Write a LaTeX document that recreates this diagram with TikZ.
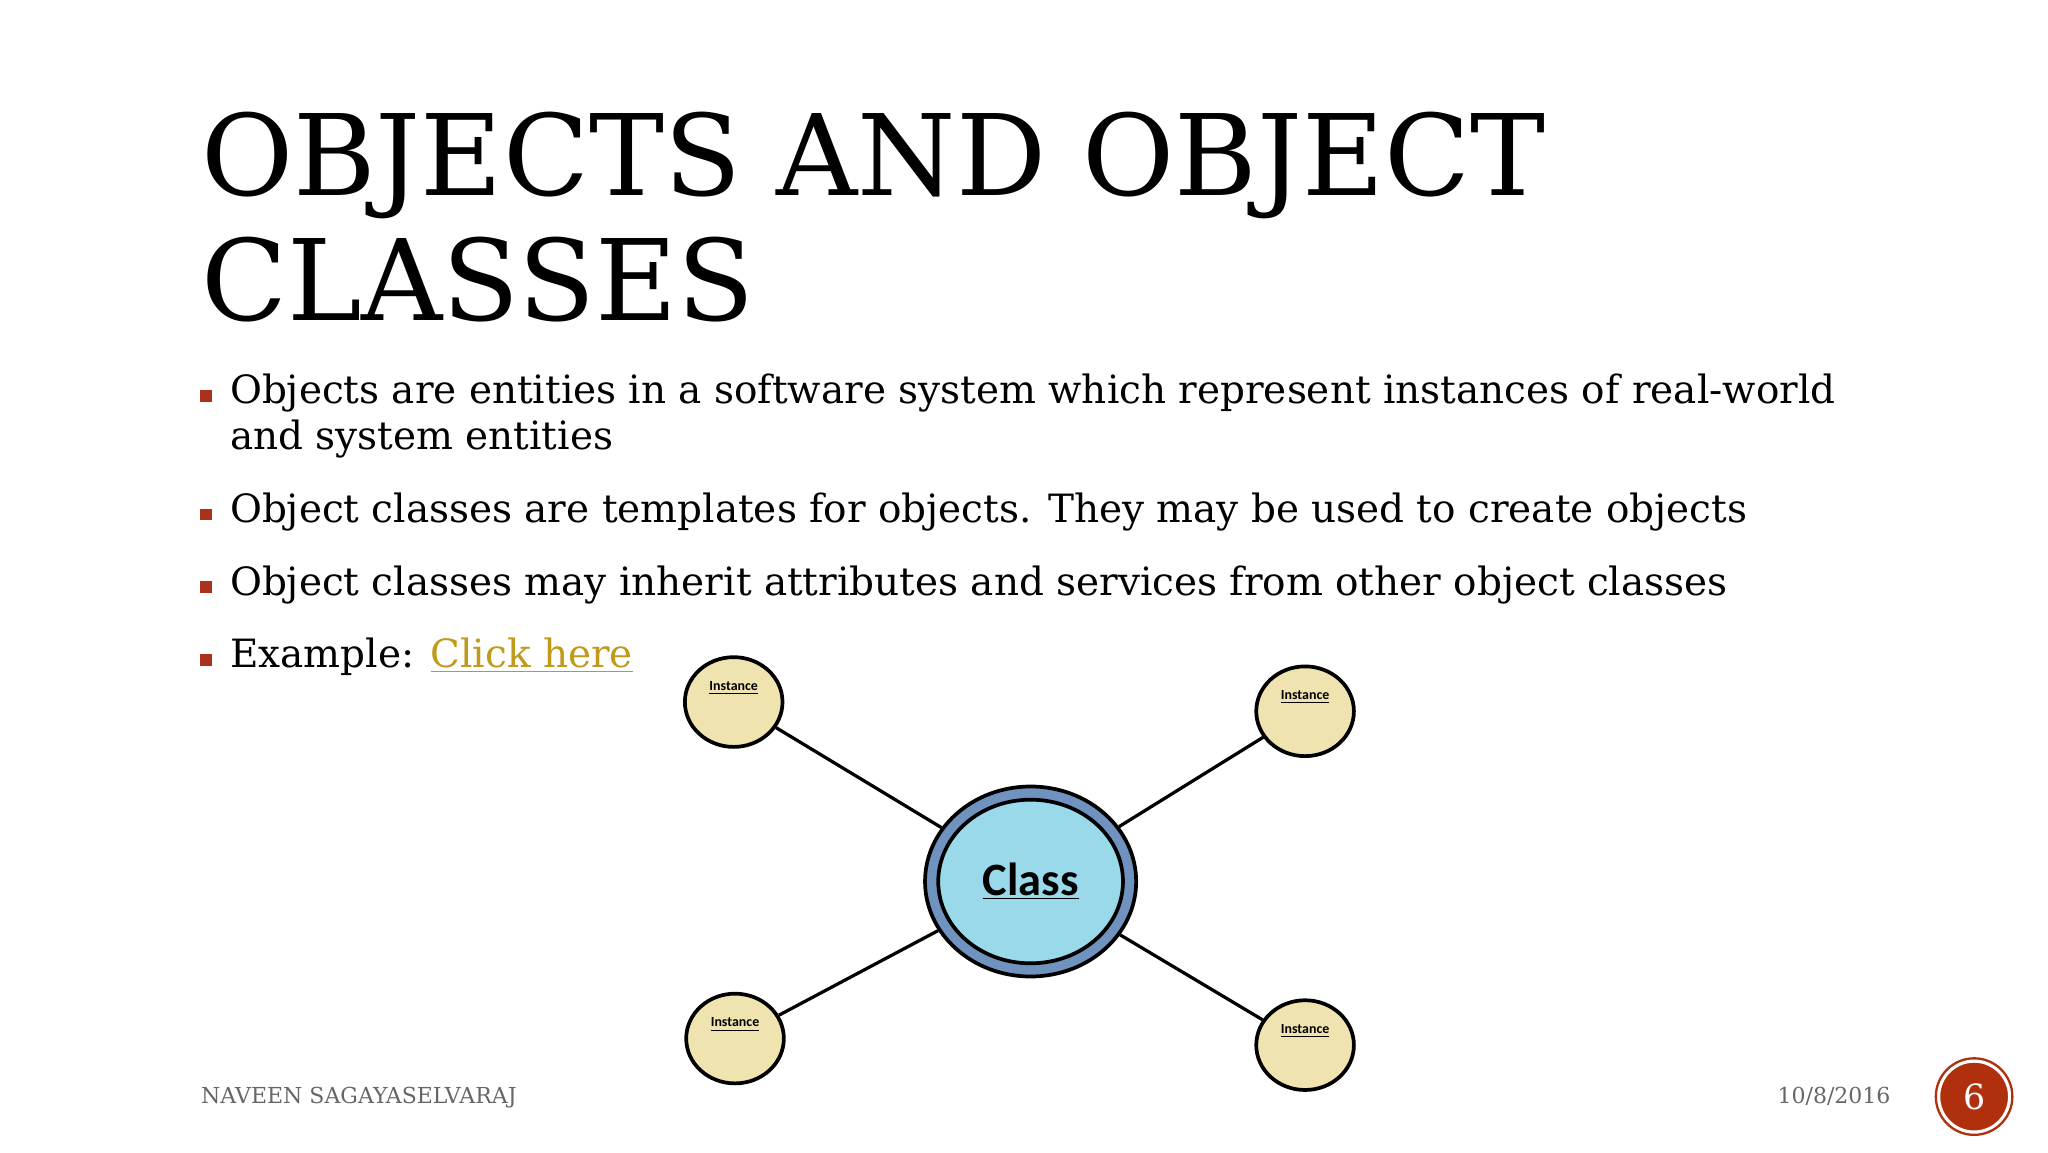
\documentclass[tikz,border=0pt]{standalone}
\usepackage{fontspec}
\setmainfont{DejaVu Serif}
\newfontfamily\calib{Carlito}
\usetikzlibrary{positioning}
\definecolor{bulletred}{HTML}{A8321C}
\definecolor{linkgold}{HTML}{C09A1A}
\definecolor{instfill}{HTML}{EFE4B0}
\definecolor{classfill}{HTML}{99D9EA}
\definecolor{classring}{HTML}{7092BE}
\definecolor{pagered}{HTML}{B0300E}
\tikzset{
  bullet/.style={fill=bulletred, minimum size=5pt, inner sep=0pt},
  bodytext/.style={anchor=base west, inner sep=0pt, font=\fontsize{16.8}{20}\selectfont},
  instance/.style={ellipse, draw, line width=1.6pt, fill=instfill, minimum width=74\px, minimum height=68\px, inner sep=0pt},
  link/.style={line width=1.4pt},
  footer/.style={anchor=base, inner sep=0pt, text=gray!80!black, font=\fontsize{9.5}{11}\selectfont}
}
\newlength{\px}\setlength{\px}{0.02cm}
\usetikzlibrary{shapes.geometric}
\begin{document}
\begin{tikzpicture}[x=0.02cm, y=-0.02cm]
  \useasboundingbox (0,0) rectangle (1552,873);
  % title
  \node[anchor=base west, inner sep=0pt, font=\fontsize{48.5}{50}\selectfont] (title1) at (152,148) {OBJECTS AND OBJECT};
  \node[anchor=base west, inner sep=0pt, font=\fontsize{48.5}{50}\selectfont] (title2) at (152,243) {CLASSES};

  % bullets
  \foreach \yy in {300,390,445,500}
    \node[bullet] at (156,\yy) {};
  \node[bodytext] (b1) at (174,306) {Objects are entities in a software system which represent instances of real-world};
  \node[bodytext] (b1b) at (174,341) {and system entities};
  \node[bodytext] (b2) at (174,396) {Object classes are templates for objects. They may be used to create objects};
  \node[bodytext] (b3) at (174,451) {Object classes may inherit attributes and services from other object classes};
  \node[bodytext] (b4) at (174,506) {Example: \textcolor{linkgold}{\underline{Click here}}};

  % class and instances
  \node[ellipse, draw, line width=1.6pt, fill=classring, minimum width=160\px, minimum height=144\px] (classout) at (781,668) {};
  \node[ellipse, draw, line width=1.6pt, fill=classfill, minimum width=140\px, minimum height=124\px, font=\calib\fontsize{20}{22}\selectfont\bfseries] (class) at (781,668) {\underline{Class}\\[-4pt]};
  \node[instance, font=\calib\fontsize{6}{7}\selectfont\bfseries] (i1) at (556,532) {\raisebox{14pt}{\underline{Instance}}};
  \node[instance, font=\calib\fontsize{6}{7}\selectfont\bfseries] (i2) at (989,539) {\raisebox{14pt}{\underline{Instance}}};
  \node[instance, font=\calib\fontsize{6}{7}\selectfont\bfseries] (i3) at (557,787) {\raisebox{14pt}{\underline{Instance}}};
  \node[instance, font=\calib\fontsize{6}{7}\selectfont\bfseries] (i4) at (989,792) {\raisebox{14pt}{\underline{Instance}}};
  \draw[link] (i1) -- (classout);
  \draw[link] (i2) -- (classout);
  \draw[link] (i3) -- (classout);
  \draw[link] (i4) -- (classout);

  % footer
  \node[footer, anchor=base west] (author) at (152,836) {NAVEEN SAGAYASELVARAJ};
  \node[footer, anchor=base east] (date) at (1433,836) {10/8/2016};
  \node[circle, fill=pagered, draw=white, line width=1.5pt, minimum size=54\px, text=white, font=\fontsize{15}{17}\selectfont] (page) at (1496,831) {6};
  \draw[pagered, line width=1pt] (page) circle (29\px);
\end{tikzpicture}
\end{document}
